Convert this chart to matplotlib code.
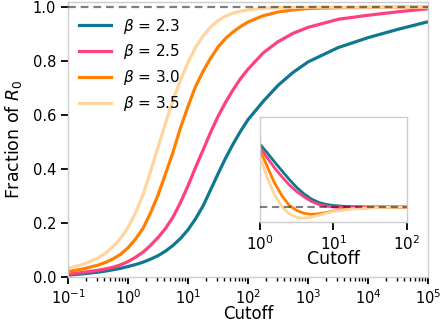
import matplotlib
matplotlib.use("Agg")
import matplotlib.pyplot as plt
from matplotlib.ticker import LogLocator, NullFormatter

# ---- data ----
cutoff = [0.1, 0.178, 0.316, 0.422, 0.562, 0.75, 1, 1.33, 1.78, 2.37, 3.16, 4.22,
          5.62, 7.5, 10, 13.3, 17.8, 23.7, 31.6, 42.2, 56.2, 75, 100, 178, 316,
          562, 1000, 3162, 10000, 31623, 100000]
frac_b23 = [0.007, 0.012, 0.018, 0.022, 0.027, 0.032, 0.039, 0.046, 0.055, 0.066,
            0.079, 0.096, 0.117, 0.143, 0.175, 0.215, 0.263, 0.322, 0.382, 0.44,
            0.492, 0.54, 0.583, 0.65, 0.71, 0.758, 0.797, 0.85, 0.887, 0.918, 0.946]
frac_b25 = [0.011, 0.017, 0.025, 0.03, 0.036, 0.045, 0.057, 0.073, 0.092, 0.117,
            0.146, 0.18, 0.222, 0.276, 0.338, 0.405, 0.47, 0.535, 0.595, 0.647,
            0.693, 0.735, 0.77, 0.83, 0.872, 0.903, 0.925, 0.955, 0.97, 0.983, 0.994]
frac_b30 = [0.02, 0.03, 0.044, 0.054, 0.067, 0.084, 0.108, 0.14, 0.18, 0.237,
            0.303, 0.382, 0.462, 0.553, 0.632, 0.705, 0.762, 0.81, 0.852, 0.884,
            0.908, 0.928, 0.945, 0.968, 0.982, 0.99, 0.995, 0.998, 0.999, 1.0, 1.0]
frac_b35 = [0.032, 0.047, 0.07, 0.088, 0.112, 0.143, 0.183, 0.237, 0.305, 0.39,
            0.48, 0.57, 0.655, 0.73, 0.795, 0.85, 0.893, 0.926, 0.95, 0.967,
            0.978, 0.985, 0.99, 0.996, 0.998, 0.999, 1.0, 1.0, 1.0, 1.0, 1.0]

inset_cutoff = [1, 1.26, 1.58, 2.0, 2.51, 3.16, 3.98, 5.01, 6.31, 7.94, 10, 12.6,
                15.8, 31.6, 100]
inset_b23 = [1.418, 1.36, 1.30, 1.24, 1.183, 1.13, 1.087, 1.053, 1.03, 1.017,
             1.01, 1.006, 1.003, 1.0, 1.0]
inset_b25 = [1.395, 1.327, 1.26, 1.20, 1.147, 1.103, 1.067, 1.037, 1.017, 1.006,
             1.0, 0.998, 0.997, 0.999, 1.0]
inset_b30 = [1.38, 1.267, 1.16, 1.073, 1.01, 0.977, 0.958, 0.951, 0.955, 0.963,
             0.973, 0.98, 0.987, 0.995, 1.0]
inset_b35 = [1.335, 1.193, 1.08, 1.0, 0.955, 0.93, 0.925, 0.932, 0.945, 0.958,
             0.97, 0.978, 0.985, 0.995, 1.0]

labels = [r"$\beta$ = 2.3", r"$\beta$ = 2.5", r"$\beta$ = 3.0", r"$\beta$ = 3.5"]
colors = ["#0f7890", "#ff4080", "#ff8000", "#ffd49e"]
yticks = [0.0, 0.2, 0.4, 0.6, 0.8, 1.0]

main_series = [frac_b23, frac_b25, frac_b30, frac_b35]
inset_series = [inset_b23, inset_b25, inset_b30, inset_b35]

fig = plt.figure(figsize=(4.4, 3.24), dpi=100)
ax = fig.add_axes([0.1545, 0.145, 0.8182, 0.8495])

for ys, c, lab in zip(main_series, colors, labels):
    ax.plot(cutoff, ys, color=c, lw=2.3, label=lab)
ax.axhline(1.0, color="k", alpha=0.5, lw=1.6, ls=(0, (3.5, 2.2)), zorder=5)

ax.set_xscale("log")
ax.set_xlim(0.1, 1e5)
ax.set_ylim(0, 1.02)
ax.set_yticks(yticks)
ax.xaxis.set_minor_locator(LogLocator(base=10, subs=range(2, 10), numticks=20))
ax.xaxis.set_minor_formatter(NullFormatter())
ax.tick_params(axis="both", which="major", length=5, width=1.3, color="k",
               labelsize=10.5, direction="out")
ax.tick_params(axis="x", which="major", pad=3)
ax.tick_params(axis="x", which="minor", length=3, width=1.0, color="k")
for s in ax.spines.values():
    s.set_color("#cccccc")
    s.set_linewidth(1.0)
ax.set_xlabel("Cutoff", fontsize=12, labelpad=-1)
ax.set_ylabel("Fraction of $R_0$", fontsize=12.5, labelpad=6)

leg = ax.legend(loc="upper left", frameon=False, fontsize=11, handlelength=2.1,
                labelspacing=0.45, handletextpad=0.8, bbox_to_anchor=(0.0, 0.985),
                borderaxespad=0.3)

# inset
ins = fig.add_axes([0.5909, 0.3148, 0.3341, 0.3241])
for ys, c in zip(inset_series, colors):
    ins.plot(inset_cutoff, ys, color=c, lw=2.0)
ins.axhline(1.0, color="k", alpha=0.5, lw=1.5, ls=(0, (3.5, 2.2)), zorder=5)
ins.set_xscale("log")
ins.set_xlim(1, 100)
ins.set_ylim(0.9, 1.6)
ins.set_yticks([])
ins.set_xticks([1, 10, 100])
ins.xaxis.set_minor_locator(plt.NullLocator())
ins.tick_params(axis="x", which="major", length=6, width=1.3, color="k",
                labelsize=11, pad=3)
for s in ins.spines.values():
    s.set_color("#cccccc")
    s.set_linewidth(1.0)
ins.set_xlabel("Cutoff", fontsize=12.5, labelpad=-2)

fig.savefig("out.png", dpi=100)
